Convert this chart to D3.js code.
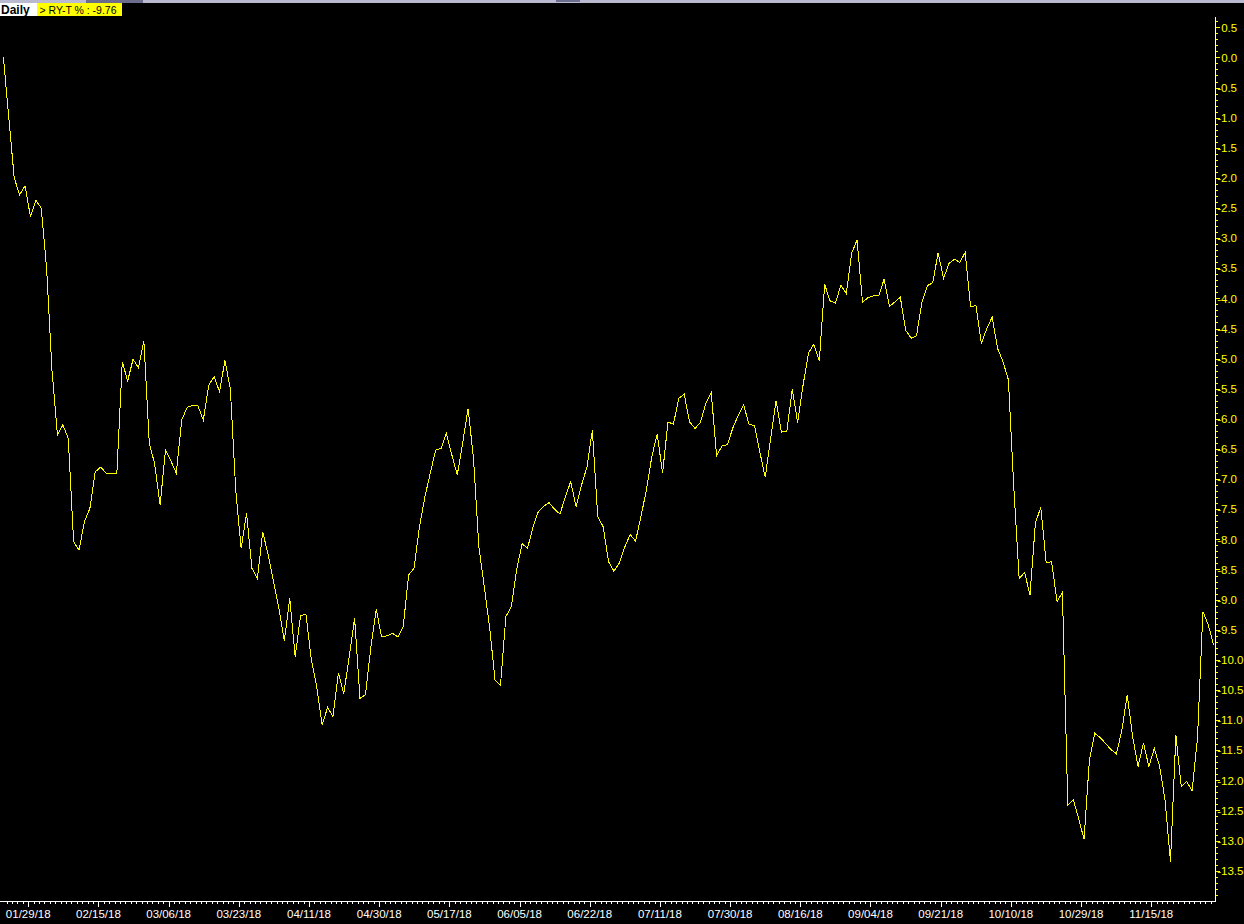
<!DOCTYPE html>
<html><head><meta charset="utf-8">
<script src="https://cdn.jsdelivr.net/npm/d3@7"></script>
<style>html,body{margin:0;padding:0;background:#000;overflow:hidden}</style>
</head><body>
<svg id="c" width="1244" height="924"></svg>
<script>
// RY-T % change, daily closes
const values = [
  0.0, -1.0, -2.0, -2.28, -2.13, -2.64, -2.37, -2.5, -3.5, -5.2,
  -6.27, -6.1, -6.32, -8.04, -8.18, -7.7, -7.49, -6.88, -6.8, -6.9,
  -6.9, -6.9, -5.05, -5.37, -5.01, -5.15, -4.71, -6.4, -6.75, -7.43,
  -6.52, -6.7, -6.9, -6.02, -5.81, -5.78, -5.78, -6.02, -5.44, -5.30,
  -5.55, -5.03, -5.5, -7.18, -8.15, -7.57, -8.48, -8.65, -7.88, -8.25,
  -8.7, -9.15, -9.68, -8.98, -9.95, -9.26, -9.25, -10.0, -10.45, -11.08,
  -10.79, -10.94, -10.22, -10.56, -9.95, -9.31, -10.64, -10.58, -9.8, -9.16,
  -9.62, -9.6, -9.56, -9.62, -9.45, -8.59, -8.48, -7.79, -7.3, -6.9,
  -6.52, -6.49, -6.24, -6.6, -6.93, -6.4, -5.83, -6.65, -8.12, -8.79,
  -9.47, -10.34, -10.42, -9.28, -9.12, -8.5, -8.07, -8.15, -7.8, -7.54,
  -7.45, -7.39, -7.5, -7.58, -7.3, -7.04, -7.46, -7.1, -6.8, -6.19,
  -7.62, -7.79, -8.37, -8.53, -8.39, -8.13, -7.92, -8.03, -7.62, -7.18,
  -6.63, -6.25, -6.9, -6.05, -6.09, -5.66, -5.59, -6.05, -6.16, -6.06,
  -5.74, -5.56, -6.61, -6.45, -6.43, -6.15, -5.94, -5.77, -6.09, -6.11,
  -6.55, -6.97, -6.32, -5.7, -6.22, -6.2, -5.51, -6.06, -5.44, -4.91,
  -4.76, -5.04, -3.77, -4.04, -4.08, -3.78, -3.92, -3.25, -3.03, -4.06,
  -3.99, -3.96, -3.96, -3.68, -4.13, -4.06, -3.98, -4.53, -4.66, -4.62,
  -4.06, -3.79, -3.74, -3.24, -3.67, -3.42, -3.35, -3.40, -3.24, -4.14,
  -4.12, -4.75, -4.5, -4.31, -4.83, -5.05, -5.35, -7.13, -8.65, -8.55,
  -8.92, -7.73, -7.47, -8.39, -8.37, -9.03, -8.88, -12.41, -12.32, -12.63,
  -12.98, -11.66, -11.22, -11.29, -11.39, -11.49, -11.56, -11.17, -10.58, -11.28,
  -11.77, -11.38, -11.77, -11.47, -11.77, -12.33, -13.35, -11.25, -12.11, -12.02,
  -12.17, -11.3, -9.2, -9.42, -9.76
];
const xLabels = ["01/29/18","02/15/18","03/06/18","03/23/18","04/11/18","04/30/18",
  "05/17/18","06/05/18","06/22/18","07/11/18","07/30/18","08/16/18","09/04/18",
  "09/21/18","10/10/18","10/29/18","11/15/18"];
// bar position (index units) of each date label
const xLabelIdx = [4.6, 17.59, 30.58, 43.57, 56.56, 69.55, 82.54, 95.53, 108.52,
  121.51, 134.5, 147.49, 160.48, 173.47, 186.46, 199.45, 212.44];
const yMajorTicks = [0.5,0,-0.5,-1,-1.5,-2,-2.5,-3,-3.5,-4,-4.5,-5,-5.5,-6,-6.5,-7,
  -7.5,-8,-8.5,-9,-9.5,-10,-10.5,-11,-11.5,-12,-12.5,-13,-13.5];
const seriesName = "RY-T";
const period = "Daily";
const lastValue = "-9.76";

const svg = d3.select("#c");
const W = 1244, H = 924;
const FONT = "'Liberation Sans', Arial, sans-serif";

svg.append("rect").attr("x",0).attr("y",0).attr("width",W).attr("height",H).attr("fill","#000");

// top window strip
svg.append("rect").attr("x",0).attr("y",0).attr("width",W).attr("height",3).attr("fill","#b9b9cf");
svg.append("rect").attr("x",86).attr("y",0).attr("width",57).attr("height",3).attr("fill","#6c6c8c");
svg.append("rect").attr("x",556).attr("y",0).attr("width",24).attr("height",2).attr("fill","#6c6c8c");

const axisX = 1215.5, axisY = 901.5;
const x = d3.scaleLinear().domain([0, values.length - 1]).range([3.4, 1213.7]);
const y = d3.scaleLinear().domain([-13.5, 0.5]).range([870.7, 27.3]);

// right value axis
const g = svg.append("g");
g.append("line").attr("x1",axisX).attr("x2",axisX).attr("y1",16.5).attr("y2",axisY)
  .attr("stroke","#ffffff").attr("stroke-width",1).attr("shape-rendering","crispEdges");

const minorY = d3.range(6, -140, -1).map(d => d / 10);
g.selectAll("line.ym").data(minorY).join("line").attr("class","ym")
  .attr("x1",axisX).attr("x2",axisX + 2.5)
  .attr("y1",d => Math.round(y(d)) + 0.5).attr("y2",d => Math.round(y(d)) + 0.5)
  .attr("stroke","#ffff00").attr("shape-rendering","crispEdges");
g.selectAll("line.yM").data(yMajorTicks).join("line").attr("class","yM")
  .attr("x1",axisX).attr("x2",axisX + 4.5)
  .attr("y1",d => Math.round(y(d)) + 0.5).attr("y2",d => Math.round(y(d)) + 0.5)
  .attr("stroke","#ffff00").attr("shape-rendering","crispEdges");
const fmt = v => { const s = v.toFixed(1); return s === "-0.0" ? "0.0" : s; };
g.selectAll("text.yl").data(yMajorTicks).join("text").attr("class","yl")
  .attr("x",d => d < 0 ? 1217.2 : 1221.2)
  .attr("y",d => y(d) + 4.2)
  .attr("fill","#ffff00").attr("font-family",FONT).attr("font-size","11.5px")
  .text(fmt);

// bottom date axis
g.append("line").attr("x1",0).attr("x2",axisX).attr("y1",axisY).attr("y2",axisY)
  .attr("stroke","#ffffff").attr("shape-rendering","crispEdges");
const step = (xLabelIdx[xLabelIdx.length-1] - xLabelIdx[0]) / ((xLabelIdx.length-1) * 13);
const minorX = d3.range(-4, 222).map(k => xLabelIdx[0] + k * step).filter(d => x(d) >= 0 && x(d) < axisX - 2);
g.selectAll("line.xm").data(minorX).join("line").attr("class","xm")
  .attr("x1",d => Math.round(x(d)) + 0.5).attr("x2",d => Math.round(x(d)) + 0.5)
  .attr("y1",axisY).attr("y2",axisY + 2.5)
  .attr("stroke","#ffffff").attr("shape-rendering","crispEdges");
g.selectAll("line.xM").data(xLabelIdx).join("line").attr("class","xM")
  .attr("x1",d => Math.round(x(d)) + 0.5).attr("x2",d => Math.round(x(d)) + 0.5)
  .attr("y1",axisY).attr("y2",axisY + 5)
  .attr("stroke","#ffffff").attr("shape-rendering","crispEdges");
g.selectAll("text.xl").data(xLabels).join("text").attr("class","xl")
  .attr("x",(d,i) => x(xLabelIdx[i])).attr("y",918)
  .attr("text-anchor","middle").attr("fill","#ffffff")
  .attr("font-family",FONT).attr("font-size","11.5px").text(d => d);

// price line
const line = d3.line().x((d,i) => x(i)).y(d => y(d));
svg.append("path").datum(values).attr("d",line)
  .attr("fill","none").attr("stroke","#ffff00").attr("stroke-width",1)
  .attr("shape-rendering","crispEdges");

// header boxes
svg.append("rect").attr("x",0).attr("y",3).attr("width",37).attr("height",13).attr("fill","#ffffff");
svg.append("text").attr("x",1).attr("y",14).attr("font-family",FONT).attr("font-weight","bold")
  .attr("font-size","12px").attr("fill","#000").text(period);
svg.append("rect").attr("x",37).attr("y",3).attr("width",85).attr("height",13).attr("fill","#ffff00");
svg.append("text").attr("x",39.5).attr("y",14).attr("font-family",FONT)
  .attr("font-size","11.5px").attr("fill","#000")
  .attr("textLength",77).attr("lengthAdjust","spacingAndGlyphs")
  .text("> " + seriesName + " % : " + lastValue);
</script>
</body></html>
